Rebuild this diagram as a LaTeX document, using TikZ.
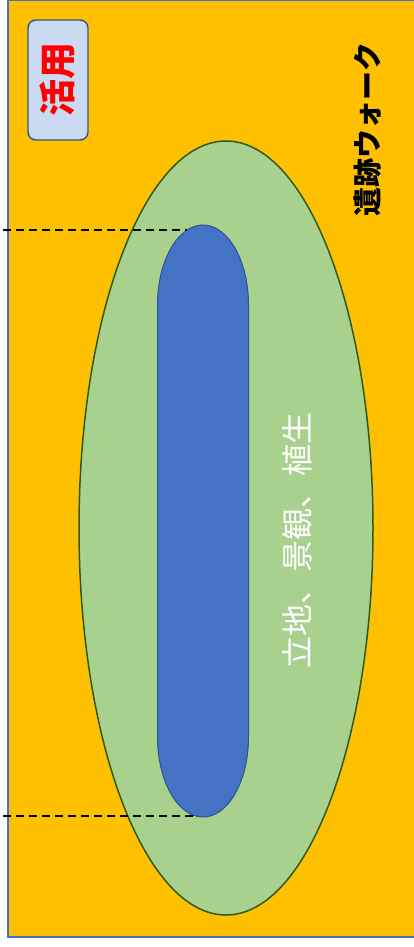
\documentclass[tikz,border=0pt]{standalone}
\usepackage{fontspec}
\newfontfamily\cjk{Noto Sans CJK JP}
\definecolor{bgorange}{HTML}{FFC000}
\definecolor{framblue}{HTML}{4472C4}
\definecolor{ellgreen}{HTML}{A9D18E}
\definecolor{ellline}{HTML}{2E5A1C}
\definecolor{corefill}{HTML}{4472C4}
\definecolor{coreline}{HTML}{2F528F}
\definecolor{tagfill}{HTML}{CADAF0}
\definecolor{tagline}{HTML}{2F528F}
\tikzset{
  frame/.style={fill=bgorange, draw=framblue, line width=1.6pt},
  zone/.style={fill=ellgreen, draw=ellline, line width=1.5pt},
  core/.style={fill=corefill, draw=coreline, line width=1pt},
  tagbox/.style={fill=tagfill, draw=tagline, line width=1.4pt, rounded corners=8pt},
  guide/.style={draw=black, line width=2pt, dash pattern=on 8pt off 5pt},
  vtext/.style={rotate=90, inner sep=0pt, font=\cjk}
}
\begin{document}
\begin{tikzpicture}[x=1pt,y=1pt]
\useasboundingbox (0,0) rectangle (414,-947);
\fill[white] (0,0) rectangle (414,-947);
\draw[frame] (8,0) rectangle (416,-937);
\draw[zone] (226,-528) ellipse [x radius=147, y radius=387];
\draw[core] (157.5,-305) -- (157.5,-737)
  arc[start angle=180, end angle=360, x radius=45.5, y radius=80]
  -- (248.5,-305)
  arc[start angle=0, end angle=180, x radius=45.5, y radius=80] -- cycle;
\coordinate (coretop) at (187,-230);
\coordinate (corebot) at (198,-816);
\coordinate (lefttop) at (3,-230);
\coordinate (leftbot) at (3,-816);
\draw[guide] (lefttop) -- (coretop);
\draw[guide] (leftbot) -- (corebot);
\node[tagbox, minimum width=60pt, minimum height=120pt] (tag) at (58,-80) {};
\node[vtext, text=red, font=\cjk\bfseries\fontsize{37}{37}\selectfont] (taglabel) at (tag.center) {活用};
\node[vtext, text=black, font=\cjk\bfseries\fontsize{29}{29}\selectfont] (walk) at (368,-129) {遺跡ウォーク};
\node[vtext, text=white, font=\cjk\fontsize{32}{32}\selectfont] (site) at (297,-540) {立地、景観、植生};
\end{tikzpicture}
\end{document}
